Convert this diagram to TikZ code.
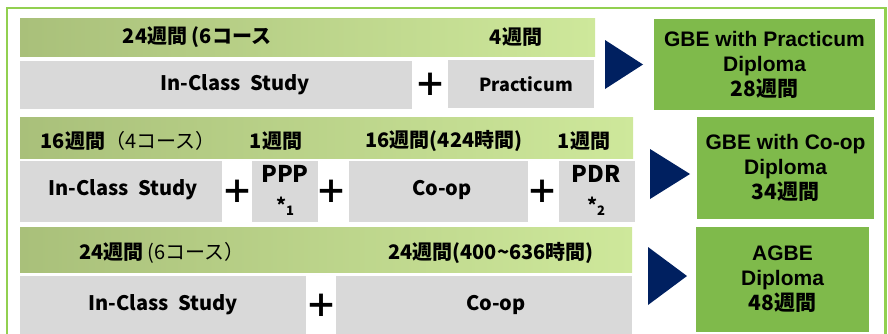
\documentclass[tikz,border=0pt]{standalone}
\usepackage{fontspec}
\newfontfamily\jpfont{Noto Sans CJK JP}
\newfontfamily\arfont{Liberation Sans}
\definecolor{frameGreen}{HTML}{92D050}
\definecolor{hdrL}{HTML}{A9C07A}
\definecolor{hdrR}{HTML}{CEE89B}
\definecolor{boxGray}{HTML}{D9D9D9}
\definecolor{dipGreen}{HTML}{7FBA4B}
\definecolor{arrowNavy}{HTML}{002060}

\begin{document}
\begin{tikzpicture}[x=1pt,y=-1pt,
  hdrbar/.style={rectangle,inner sep=0pt,left color=hdrL,right color=hdrR},
  graybox/.style={rectangle,inner sep=0pt,fill=boxGray},
  weektxt/.style={inner sep=0pt,font=\jpfont\fontsize{20}{24}\selectfont},
  studytxt/.style={inner sep=0pt,font=\jpfont\bfseries\fontsize{20}{24}\selectfont,align=center},
  smalltxt/.style={inner sep=0pt,font=\jpfont\bfseries\fontsize{23}{30}\selectfont,align=center},
  plustxt/.style={inner sep=0pt,font=\jpfont\bfseries\fontsize{32}{32}\selectfont},
  diploma/.style={rectangle,inner sep=0pt,fill=dipGreen,align=center,font=\arfont\bfseries\fontsize{21}{25}\selectfont},
  tri/.style={fill=arrowNavy}]
\useasboundingbox (0,0) rectangle (888,333);
\clip (0,0) rectangle (888,333);
\draw[frameGreen,line width=2.2pt] (7,8) rectangle (885.5,345);

% practicum track
\node[hdrbar,minimum width=575pt,minimum height=38pt] (hdrA) at (307.5,37) {};
\node[weektxt] (wkA1) at (197,37) {\bfseries 24週間 (6コース};
\node[weektxt] (wkA2) at (516,37) {\bfseries 4週間};
\node[graybox,minimum width=392pt,minimum height=48pt] (clsA) at (216,85) {};
\node[studytxt] (clsAt) at (235,85) {In-Class\ \ Study};
\node[plustxt] (plA1) at (430,85) {＋};
\node[graybox,minimum width=146pt,minimum height=48pt] (prcA) at (521,84) {};
\node[studytxt,font=\jpfont\bfseries\fontsize{18}{22}\selectfont] (prcAt) at (526,84) {Practicum};
\fill[tri] (605,40) -- (643,64.5) -- (605,89) -- cycle;
\node[diploma,minimum width=221pt,minimum height=91pt] (dipA) at (764.5,64.5) {GBE with Practicum\\Diploma\\{\jpfont 28週間}};

% co-op track
\node[hdrbar,minimum width=613pt,minimum height=41pt] (hdrB) at (326.5,137.5) {};
\node[weektxt] (wkB1) at (128,141) {{\bfseries 16週間}（4コース）};
\node[weektxt] (wkB2) at (276,141) {\bfseries 1週間};
\node[weektxt] (wkB3) at (444,141) {\bfseries 16週間(424時間)};
\node[weektxt] (wkB4) at (584,141) {\bfseries 1週間};
\node[graybox,minimum width=202pt,minimum height=61pt] (clsB) at (121,191.5) {};
\node[studytxt] (clsBt) at (123,190) {In-Class\ \ Study};
\node[plustxt] (plB1) at (237,192) {＋};
\node[graybox,minimum width=66pt,minimum height=61pt] (pppB) at (285,191.5) {};
\node[smalltxt] (pppBt) at (285,190) {PPP\\{\fontsize{19}{19}\selectfont *\raisebox{-3pt}{\fontsize{13}{13}\selectfont 1}}};
\node[plustxt] (plB2) at (331,192) {＋};
\node[graybox,minimum width=179pt,minimum height=61pt] (coB) at (438.5,191.5) {};
\node[studytxt] (coBt) at (442,190) {Co-op};
\node[plustxt] (plB3) at (542,192) {＋};
\node[graybox,minimum width=76pt,minimum height=61pt] (pdrB) at (597,191.5) {};
\node[smalltxt] (pdrBt) at (596,190) {PDR\\{\fontsize{19}{19}\selectfont *\raisebox{-3pt}{\fontsize{13}{13}\selectfont 2}}};
\fill[tri] (650,149) -- (690,174) -- (650,199) -- cycle;
\node[diploma,minimum width=177pt,minimum height=102pt] (dipB) at (785.5,168) {GBE with Co-op\\Diploma\\{\jpfont 34週間}};

% advanced track
\node[hdrbar,minimum width=612pt,minimum height=45pt] (hdrC) at (326,249.5) {};
\node[weektxt] (wkC1) at (162,253) {{\bfseries 24週間} (6コース）};
\node[weektxt] (wkC2) at (491,253) {\bfseries 24週間(400\textasciitilde 636時間)};
\node[graybox,minimum width=286pt,minimum height=64pt] (clsC) at (163,308) {};
\node[studytxt] (clsCt) at (163,305) {In-Class\ \ Study};
\node[plustxt] (plC1) at (321,306) {＋};
\node[graybox,minimum width=296pt,minimum height=64pt] (coC) at (484,308) {};
\node[studytxt] (coCt) at (496,305) {Co-op};
\fill[tri] (648,247) -- (687,276) -- (648,305) -- cycle;
\node[diploma,minimum width=173pt,minimum height=105pt] (dipC) at (782.5,279.5) {AGBE\\Diploma\\{\jpfont 48週間}};
\end{tikzpicture}
\end{document}
